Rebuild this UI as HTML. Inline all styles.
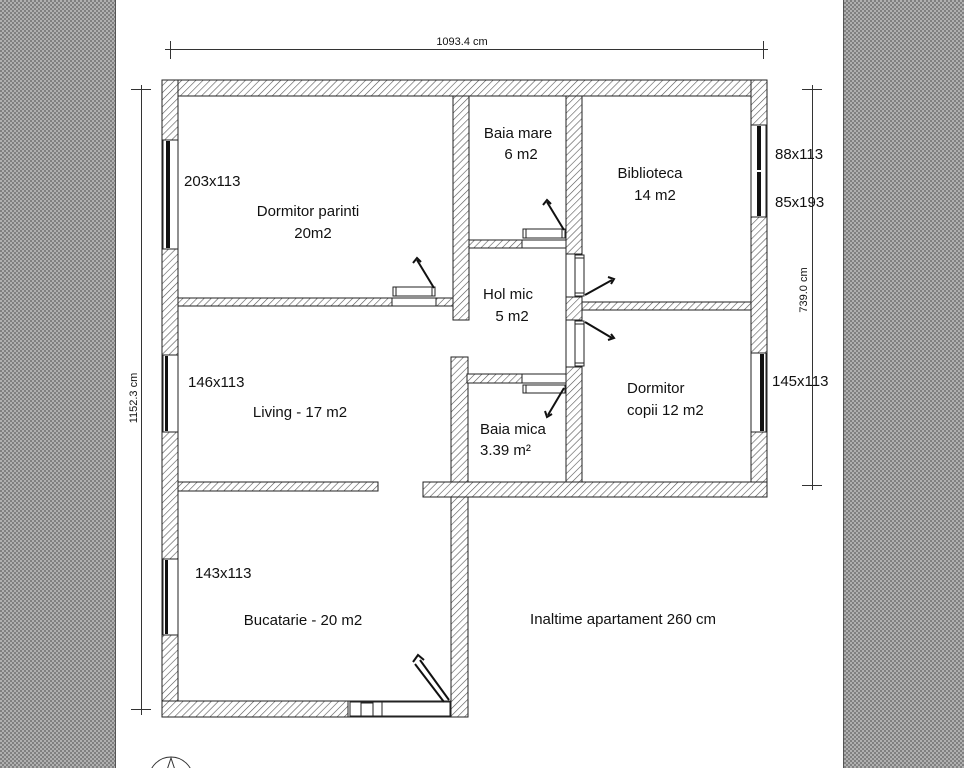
<!DOCTYPE html>
<html><head><meta charset="utf-8"><style>
html,body{margin:0;padding:0;width:964px;height:768px;overflow:hidden;background:#fff}
svg{display:block}
text{font-family:"Liberation Sans",Arial,sans-serif;fill:#111}
</style></head><body>
<svg width="964" height="768" viewBox="0 0 964 768" xmlns="http://www.w3.org/2000/svg">
<defs>
<pattern id="g" width="4" height="4" patternUnits="userSpaceOnUse"><rect width="4" height="4" fill="#808080"/><rect width="2" height="2" fill="#b0b0b0"/><rect x="2" y="2" width="2" height="2" fill="#b0b0b0"/></pattern>
<pattern id="h" width="5" height="5" patternUnits="userSpaceOnUse" patternTransform="rotate(45)"><rect width="5" height="5" fill="#fff"/><line x1="0" y1="0" x2="0" y2="5" stroke="#555" stroke-width="1.2"/></pattern>
</defs>
<rect x="0" y="0" width="115" height="768" fill="url(#g)"/>
<rect x="844" y="0" width="120" height="768" fill="url(#g)"/>
<line x1="115.5" y1="0" x2="115.5" y2="768" stroke="#555"/>
<line x1="843.5" y1="0" x2="843.5" y2="768" stroke="#555"/>

<g stroke="#333" stroke-width="1" fill="none">
<line x1="165" y1="49.5" x2="768" y2="49.5"/>
<line x1="170.5" y1="41" x2="170.5" y2="59"/><line x1="763.5" y1="41" x2="763.5" y2="59"/>
<line x1="141.5" y1="85" x2="141.5" y2="715"/>
<line x1="131" y1="89.5" x2="151" y2="89.5"/><line x1="131" y1="709.5" x2="151" y2="709.5"/>
<line x1="812.5" y1="85" x2="812.5" y2="490"/>
<line x1="802" y1="89.5" x2="822" y2="89.5"/><line x1="802" y1="485.5" x2="822" y2="485.5"/>
</g>
<text x="462" y="45" font-size="11" text-anchor="middle" fill="#444">1093.4 cm</text>
<text transform="translate(137,398) rotate(-90)" font-size="11" text-anchor="middle" fill="#444">1152.3 cm</text>
<text transform="translate(807,290) rotate(-90)" font-size="11" text-anchor="middle" fill="#444">739.0 cm</text>

<g fill="url(#h)" stroke="#222" stroke-width="1">
<rect x="162" y="80" width="605" height="16"/>
<rect x="162" y="80" width="16" height="637"/>
<rect x="751" y="80" width="16" height="417"/>
<rect x="162" y="701" width="306" height="16"/>
<rect x="451" y="357" width="17" height="360"/>
<rect x="423" y="482" width="344" height="15"/>
<rect x="453" y="96" width="16" height="224"/>
<rect x="566" y="96" width="16" height="386"/>
<rect x="178" y="298" width="214" height="8"/>
<rect x="436" y="298" width="17" height="8"/>
<rect x="469" y="240" width="53" height="8"/>
<rect x="582" y="302" width="169" height="8"/>
<rect x="467" y="374" width="55" height="9"/>
<rect x="178" y="482" width="200" height="9"/>
</g>
<g fill="#fff" stroke="#222" stroke-width="1">
<rect x="392" y="298" width="44" height="8"/>
<rect x="522" y="240" width="44" height="8"/>
<rect x="522" y="374" width="44" height="9"/>
<rect x="566" y="254" width="16" height="43"/>
<rect x="566" y="320" width="16" height="47"/>
<rect x="348" y="701" width="103" height="16"/>
</g>
<g fill="#fff" stroke="#222" stroke-width="1">
<rect x="393" y="287" width="42" height="9"/><line x1="396" y1="287" x2="396" y2="296"/><line x1="432" y1="287" x2="432" y2="296"/>
<rect x="523" y="229" width="42" height="9"/><line x1="526" y1="229" x2="526" y2="238"/><line x1="562" y1="229" x2="562" y2="238"/>
<rect x="523" y="385" width="42" height="8"/><line x1="526" y1="385" x2="526" y2="393"/>
<rect x="575" y="255" width="9" height="41"/><line x1="575" y1="258" x2="584" y2="258"/><line x1="575" y1="293" x2="584" y2="293"/>
<rect x="575" y="321" width="9" height="45"/><line x1="575" y1="324" x2="584" y2="324"/><line x1="575" y1="363" x2="584" y2="363"/>
<rect x="350" y="702" width="100" height="14"/><rect x="361" y="703" width="12" height="13"/><line x1="382" y1="702" x2="382" y2="716"/>
</g>
<g stroke="#111" stroke-width="2" fill="none">
<line x1="434" y1="288" x2="417" y2="260"/><path d="M413 263 L417 258 L421 262"/>
<line x1="564" y1="230" x2="547" y2="202"/><path d="M543 205 L547 200 L551 204"/>
<line x1="585" y1="295" x2="612" y2="280"/><path d="M608 277 L614 279 L611 284"/>
<line x1="585" y1="322" x2="612" y2="338"/><path d="M608 340 L614 338 L611 334"/>
<line x1="564" y1="388" x2="548" y2="415"/><path d="M545 411 L547 417 L552 414"/>
<line x1="449" y1="700" x2="420" y2="660"/><line x1="444" y1="702" x2="415" y2="664"/><path d="M413 662 L418 655 L424 660"/>
</g>
<g fill="#fff" stroke="#222" stroke-width="1">
<rect x="163" y="140" width="15" height="109"/>
<rect x="163" y="355" width="15" height="77"/>
<rect x="163" y="559" width="15" height="76"/>
<rect x="751" y="125" width="15" height="92"/>
<rect x="751" y="353" width="15" height="79"/>
</g>
<g fill="#111">
<rect x="166" y="141" width="4" height="107"/>
<rect x="165" y="356" width="3" height="75"/>
<rect x="165" y="560" width="3" height="74"/>
<rect x="757" y="126" width="4" height="44"/><rect x="757" y="172" width="4" height="44"/>
<rect x="760" y="354" width="4" height="77"/>
</g>

<g font-size="15">
<text x="184" y="186">203x113</text>
<text x="308" y="216" text-anchor="middle">Dormitor parinti</text>
<text x="313" y="238" text-anchor="middle">20m2</text>
<text x="518" y="138" text-anchor="middle">Baia mare</text>
<text x="521" y="159" text-anchor="middle">6 m2</text>
<text x="650" y="178" text-anchor="middle">Biblioteca</text>
<text x="655" y="200" text-anchor="middle">14 m2</text>
<text x="775" y="159">88x113</text>
<text x="775" y="207">85x193</text>
<text x="508" y="299" text-anchor="middle">Hol mic</text>
<text x="512" y="321" text-anchor="middle">5 m2</text>
<text x="627" y="393">Dormitor</text>
<text x="627" y="415">copii 12 m2</text>
<text x="772" y="386">145x113</text>
<text x="188" y="387">146x113</text>
<text x="300" y="417" text-anchor="middle">Living - 17 m2</text>
<text x="480" y="434">Baia mica</text>
<text x="480" y="455">3.39 m²</text>
<text x="195" y="578">143x113</text>
<text x="303" y="625" text-anchor="middle">Bucatarie - 20 m2</text>
<text x="623" y="624" text-anchor="middle">Inaltime apartament 260 cm</text>
</g>
<g stroke="#333" fill="none">
<circle cx="171" cy="779" r="22"/>
<path d="M171 758 L167 770 L175 770 Z"/>
</g>
</svg>
</body></html>
